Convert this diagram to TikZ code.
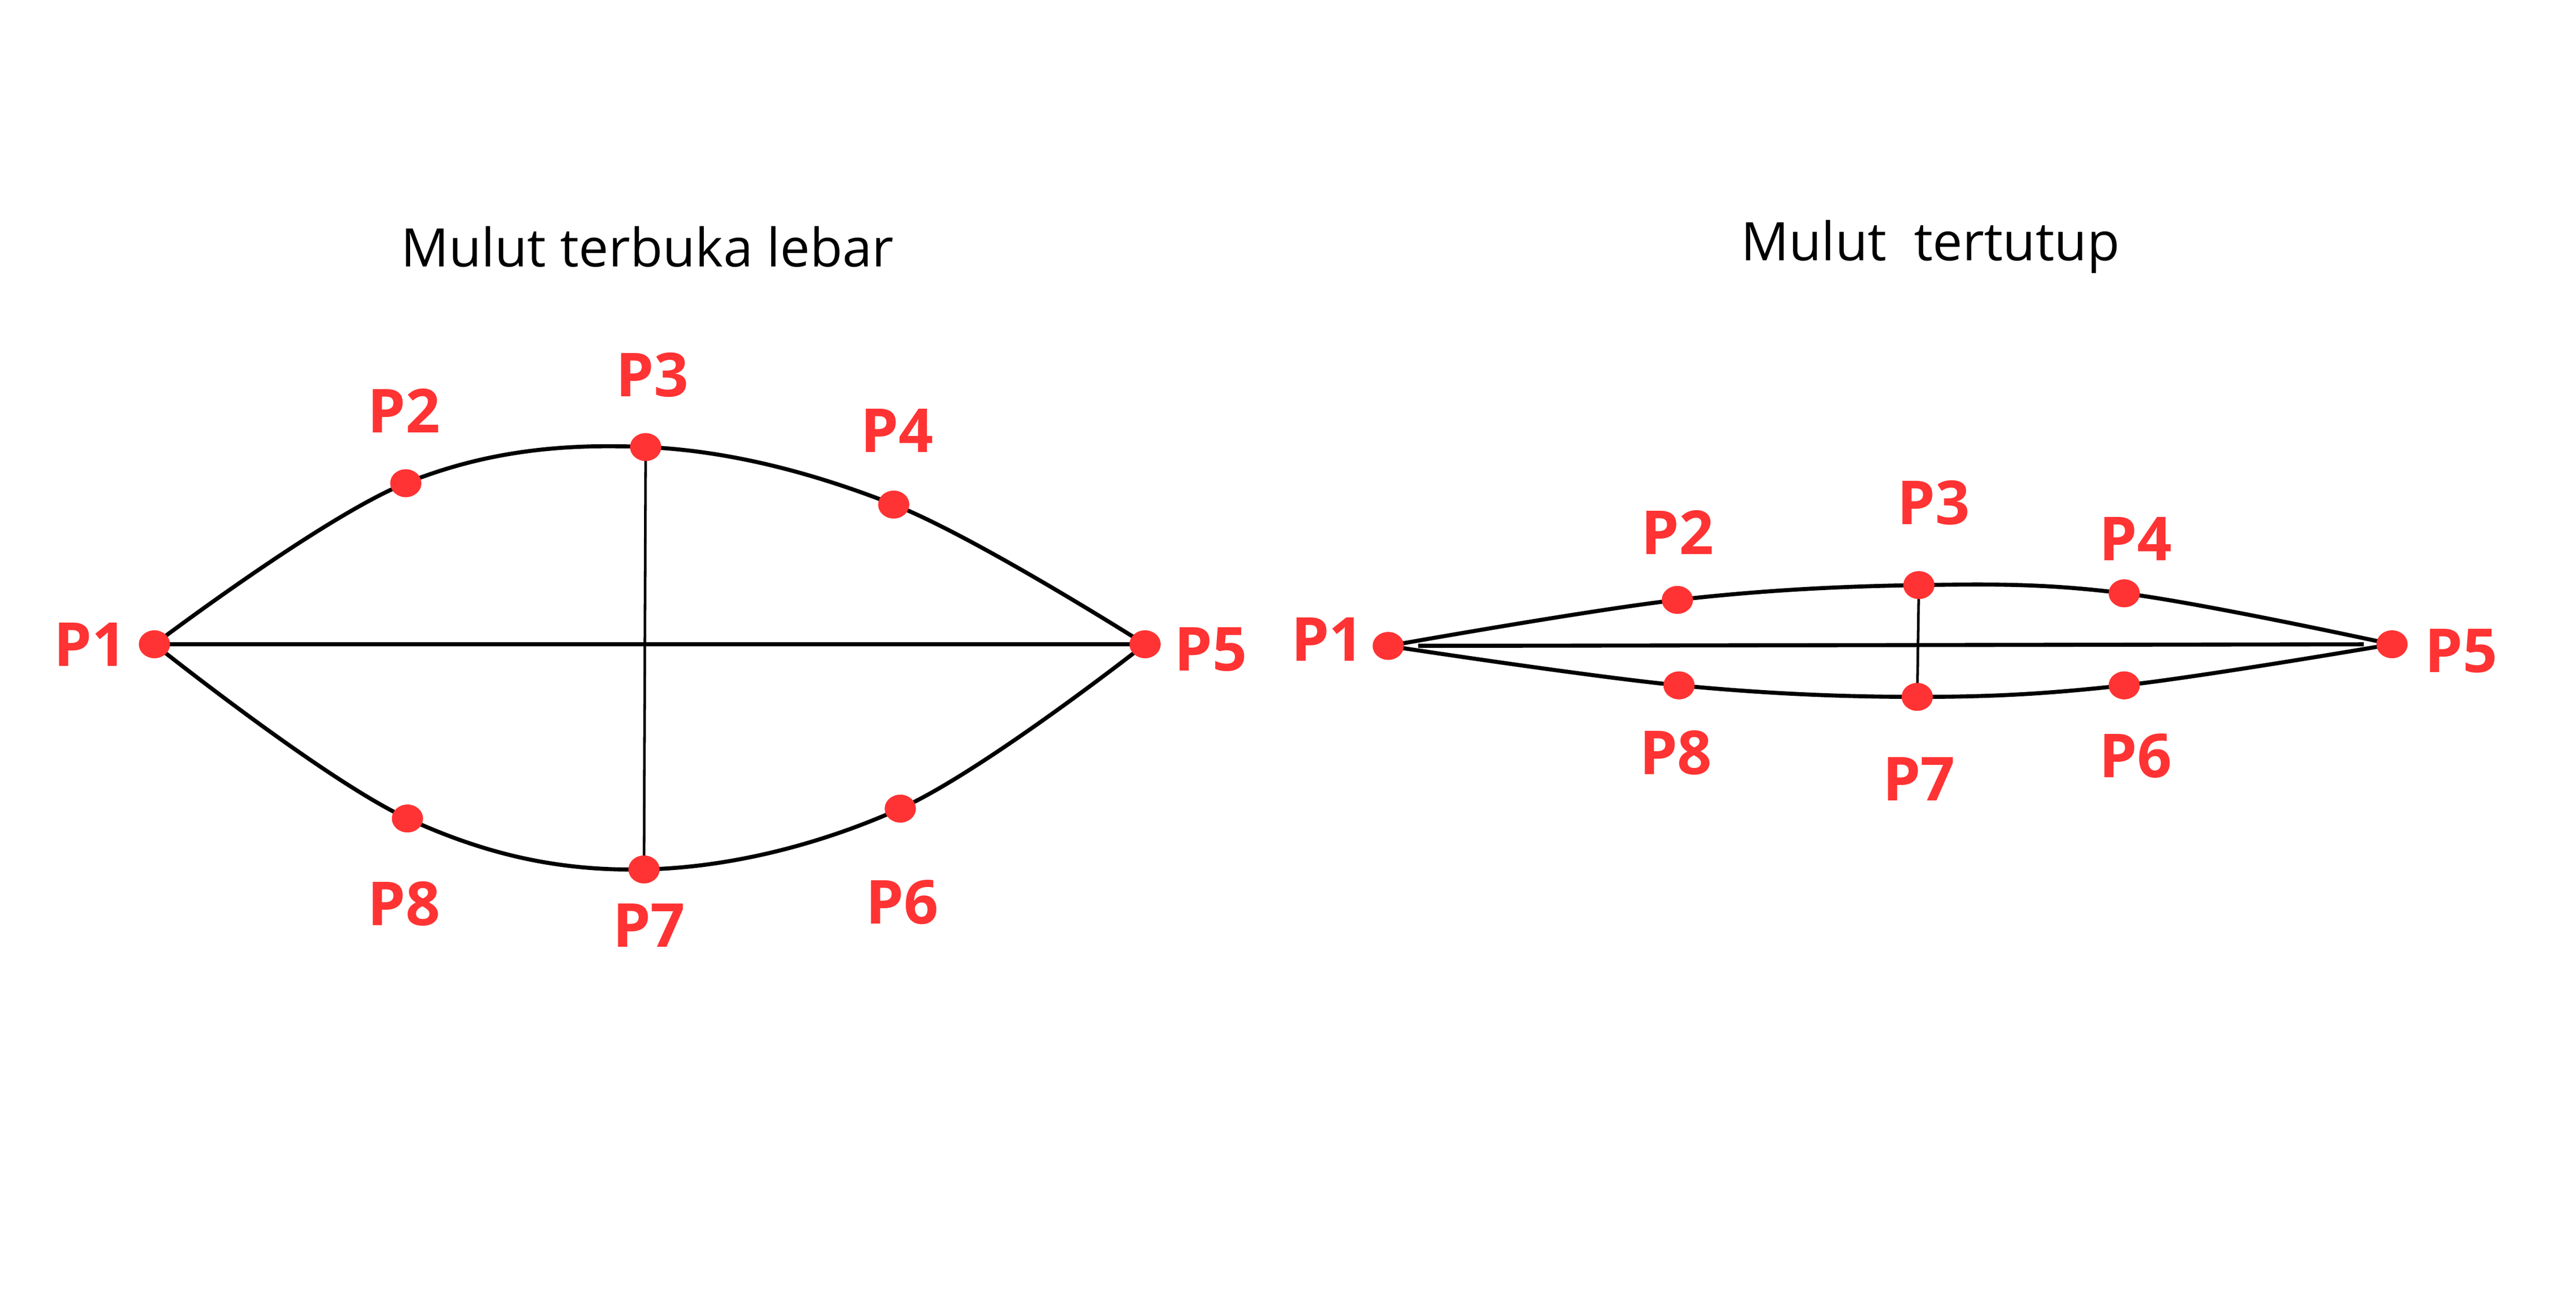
\documentclass[tikz,border=0pt]{standalone}
\usepackage{fontspec}
\setmainfont{Open Sans}
\usepackage{tikz}
\usetikzlibrary{backgrounds}
\usetikzlibrary{shapes.geometric}
\definecolor{dotred}{HTML}{FF3333}
\tikzstyle{mouth}=[line width=0.7pt, draw=black]
\tikzstyle{pt}=[ellipse, inner sep=0pt, minimum width=0.19cm, minimum height=0.17cm, fill=dotred]
\tikzstyle{lbl}=[text=dotred, inner sep=0pt, font=\bfseries\fontsize{10.5}{12}\selectfont]
\tikzstyle{ttl}=[inner sep=0pt, font=\fontsize{9.2}{11}\selectfont]
\tikzstyle{axis}=[line width=0.7pt, draw=black]
\tikzstyle{mid}=[line width=0.45pt, draw=black]

\begin{document}
\begin{tikzpicture}
	\useasboundingbox (0,0) rectangle (15.68,-7.84);
	% mulut terbuka
	\node[ttl] (t1) at (3.94,-1.50) {Mulut terbuka lebar};
	\draw (0.94,-3.92) node[pt] (a1) {};
	\draw (2.47,-2.94) node[pt] (a2) {};
	\draw (3.93,-2.72) node[pt] (a3) {};
	\draw (5.44,-3.07) node[pt] (a4) {};
	\draw (6.97,-3.92) node[pt] (a5) {};
	\draw (5.48,-4.92) node[pt] (a6) {};
	\draw (3.92,-5.29) node[pt] (a7) {};
	\draw (2.48,-4.98) node[pt] (a8) {};
	\node[lbl] (la1) at (0.55,-3.92) {P1};
	\node[lbl] (la2) at (2.46,-2.50) {P2};
	\node[lbl] (la3) at (3.97,-2.28) {P3};
	\node[lbl] (la4) at (5.46,-2.62) {P4};
	\node[lbl] (la5) at (7.37,-3.95) {P5};
	\node[lbl] (la6) at (5.49,-5.49) {P6};
	\node[lbl] (la7) at (3.95,-5.63) {P7};
	\node[lbl] (la8) at (2.46,-5.50) {P8};
	% mulut tertutup
	\node[ttl] (t2) at (11.75,-1.50) {Mulut\ \ tertutup};
	\draw (8.45,-3.93) node[pt] (b1) {};
	\draw (10.21,-3.65) node[pt] (b2) {};
	\draw (11.68,-3.56) node[pt] (b3) {};
	\draw (12.93,-3.61) node[pt] (b4) {};
	\draw (14.56,-3.92) node[pt] (b5) {};
	\draw (12.93,-4.17) node[pt] (b6) {};
	\draw (11.67,-4.24) node[pt] (b7) {};
	\draw (10.22,-4.17) node[pt] (b8) {};
	\node[lbl] (lb1) at (8.08,-3.89) {P1};
	\node[lbl] (lb2) at (10.21,-3.24) {P2};
	\node[lbl] (lb3) at (11.77,-3.06) {P3};
	\node[lbl] (lb4) at (13.00,-3.28) {P4};
	\node[lbl] (lb5) at (14.98,-3.96) {P5};
	\node[lbl] (lb6) at (13.00,-4.60) {P6};
	\node[lbl] (lb7) at (11.68,-4.74) {P7};
	\node[lbl] (lb8) at (10.20,-4.58) {P8};
	\begin{scope}[on background layer]
		\fill[white] (0,0) rectangle (15.68,-7.84);
		\draw[mouth] plot[smooth, tension=0.6] coordinates {(a1) (a2) (a3) (a4) (a5)};
		\draw[mouth] plot[smooth, tension=0.6] coordinates {(a1) (a8) (a7) (a6) (a5)};
		\draw[axis] (a1.center) -- (a5.center);
		\draw[mid] (a3.center) -- (a7.center);
		\draw[mouth] plot[smooth, tension=0.6] coordinates {(b1) (b2) (b3) (b4) (b5)};
		\draw[mouth] plot[smooth, tension=0.6] coordinates {(b1) (b8) (b7) (b6) (b5)};
		\draw[axis, shorten <=0.08cm, shorten >=0.07cm] (b1) -- (b5);
		\draw[mid] (b3.center) -- (b7.center);
	\end{scope}
\end{tikzpicture}
\end{document}
